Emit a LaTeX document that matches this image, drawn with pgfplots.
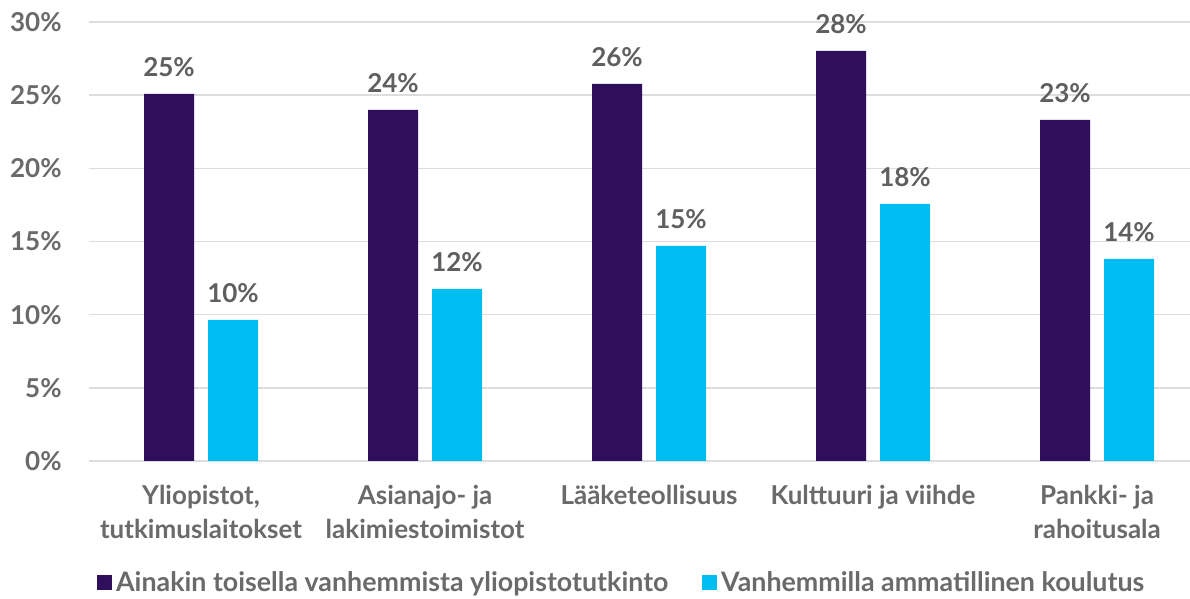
\documentclass[border=0pt]{standalone}
\usepackage{pgfplots}
\pgfplotsset{compat=1.18}
\usepackage{fontspec}
\setmainfont{Lato}[UprightFont=* Bold]
\definecolor{darkp}{HTML}{2F0F5B}
\definecolor{lightb}{HTML}{00BEF2}
\definecolor{txt}{HTML}{6A6A6A}
\definecolor{gridc}{HTML}{DDDDDD}

\pgfplotstableread{
x uni amm
0 25.08 9.64
1 23.99 11.76
2 25.77 14.70
3 28.02 17.57
4 23.31 13.81
}\datatbl

\begin{document}
\begin{tikzpicture}
\begin{axis}[
  scale only axis, width=550.5pt, height=219.5pt,
  at={(0,0)}, anchor=south west,
  ybar=7pt, bar width=25pt,
  xmin=-0.5, xmax=4.415, ymin=0, ymax=30,
  axis line style={draw=none},
  major tick length=0pt,
  ymajorgrids, grid style={gridc, line width=0.7pt},
  ytick={0,5,...,30},
  yticklabel={\pgfmathprintnumber{\tick}\%},
  /pgf/number format/assume math mode=true,
  yticklabel style={font=\fontsize{13}{14}\selectfont, text=txt, inner sep=0pt, xshift=-13.5pt},
  xtick=data,
  xticklabels={{Yliopistot,\\tutkimuslaitokset},{Asianajo- ja\\lakimiestoimistot},{Lääketeollisuus},{Kulttuuri ja viihde},{Pankki- ja\\rahoitusala}},
  xticklabel style={font=\fontsize{13}{17}\selectfont, text=txt, align=center, inner sep=0pt, anchor=north, yshift=-12pt},
  nodes near coords={\pgfmathprintnumber[fixed,precision=0]{\pgfplotspointmeta}\%},
  nodes near coords style={font=\fontsize{13}{14}\selectfont, text=txt!90!black, inner sep=0pt, anchor=south, yshift=8.5pt},
  legend columns=2,
  legend style={draw=none, fill=none, at={(0.007,-0.278)}, anchor=west,
    font=\fontsize{13.4}{14}\selectfont, text=txt, inner sep=0pt,
    /tikz/every even column/.append style={column sep=15pt}},
  legend image code/.code={\fill[#1] (0pt,-3.5pt) rectangle (7.5pt,4pt);},
]
\addplot[fill=darkp, draw=none] table[x=x, y=uni] {\datatbl};
\addplot[fill=lightb, draw=none] table[x=x, y=amm] {\datatbl};
\legend{Ainakin toisella vanhemmista yliopistotutkinto, Vanhemmilla ammatillinen koulutus}
\end{axis}
\pgfresetboundingbox
\path (-44.5pt,-69pt) rectangle (550.5pt,230.5pt);
\end{tikzpicture}
\end{document}
